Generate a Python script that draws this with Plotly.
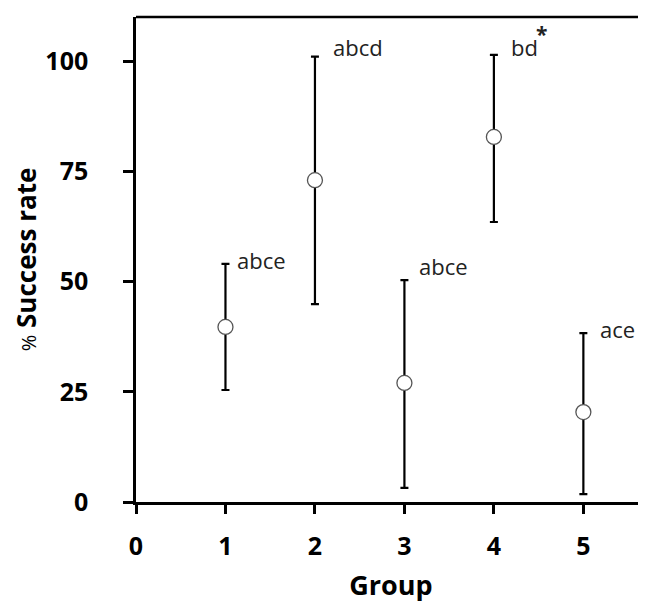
import plotly.graph_objects as go

groups = [1, 2, 3, 4, 5]
success = [39.7, 73.0, 27.0, 82.8, 20.4]
upper = [54.0, 101.0, 50.3, 101.4, 38.3]
lower = [25.4, 44.9, 3.2, 63.5, 1.8]
letters = ["abce", "abcd", "abce", "bd", "ace"]
significance = ["", "", "", "*", ""]
x_ticks = [0, 1, 2, 3, 4, 5]
y_ticks = [0, 25, 50, 75, 100]

err_plus = [u - m for u, m in zip(upper, success)]
err_minus = [m - l for m, l in zip(success, lower)]

FONT = "Open Sans, Liberation Sans, sans-serif"

fig = go.Figure()
fig.add_trace(go.Scatter(
    x=groups, y=success, mode="markers",
    marker=dict(size=15, color="white", line=dict(color="#555555", width=1.3)),
    error_y=dict(type="data", symmetric=False, array=err_plus, arrayminus=err_minus,
                 color="black", thickness=2.2, width=4),
    showlegend=False, cliponaxis=False,
))

# label offsets (px) relative to upper cap
xshifts = [10, 16, 13, 15, 15]
yshifts = [4, 10, 14, 8, 4]
for g, u, t, s, xs, ys in zip(groups, upper, letters, significance, xshifts, yshifts):
    fig.add_annotation(x=g, y=u, text=t, showarrow=False, xanchor="left", yanchor="middle",
                       xshift=xs, yshift=ys,
                       font=dict(family=FONT, size=22, color="#222222"))
    if s:
        fig.add_annotation(x=g, y=u, text="<b>" + s + "</b>", showarrow=False,
                           xanchor="left", yanchor="middle", xshift=xs + 25, yshift=ys + 13,
                           font=dict(family=FONT, size=21, color="#222222"))

tick_font = dict(family=FONT, size=25, color="black", weight="bold")
fig.update_layout(
    width=638, height=597,
    margin=dict(l=128, r=0, t=9, b=103),
    plot_bgcolor="white", paper_bgcolor="white",
    xaxis=dict(range=[0, 5.70], tickvals=x_ticks, ticks="outside", ticklen=9, tickwidth=2.5,
               tickcolor="black", showline=True, linecolor="black", linewidth=2.5,
               showgrid=False, zeroline=False, tickfont=tick_font, ticklabelstandoff=11,
               title=dict(text="<b>Group</b>", font=dict(family=FONT, size=27, color="black"), standoff=16)),
    yaxis=dict(range=[0, 110], tickvals=y_ticks, ticks="outside", ticklen=10, tickwidth=2.5,
               tickcolor="black", showline=True, linecolor="black", linewidth=2.5,
               showgrid=False, zeroline=False, tickfont=tick_font, ticklabelstandoff=30,
               title=dict(text="<span style='font-size:20px'>%</span> <b>Success rate</b>",
                          font=dict(family=FONT, size=26, color="black"), standoff=2)),
)
fig.add_shape(type="line", xref="paper", yref="paper", x0=0, x1=1, y0=1, y1=1,
              line=dict(color="black", width=2.5))

fig.write_html("out.html")
